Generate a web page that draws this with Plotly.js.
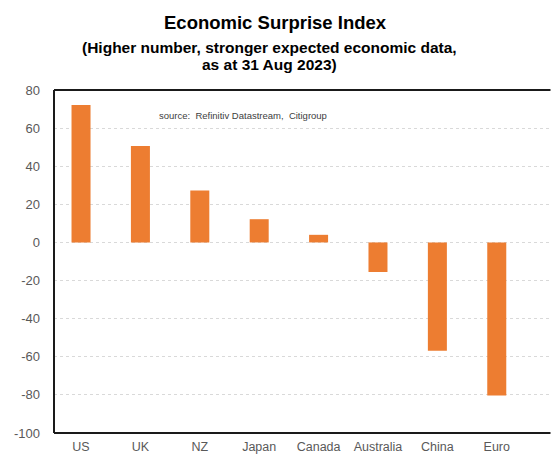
<!DOCTYPE html>
<html>
<head>
<meta charset="utf-8">
<script src="https://cdn.plot.ly/plotly-3.0.1.min.js"></script>
<style>html,body{margin:0;padding:0;background:#fff;}#chart{width:552px;height:457px;}</style>
</head>
<body>
<div id="chart"></div>
<script>
const categories = ["US", "UK", "NZ", "Japan", "Canada", "Australia", "China", "Euro"];
const values = [72.1, 50.6, 27.2, 12.2, 4.0, -15.5, -56.9, -80.3];
const yTicks = [80, 60, 40, 20, 0, -20, -40, -60, -80, -100];

const font = "Liberation Sans, Arial, sans-serif";

const trace = {
  type: "bar",
  x: categories.map((c, i) => i),
  y: values,
  marker: { color: "#ED7D31", line: { width: 0 } },
  width: 0.32,
  hoverinfo: "x+y"
};

const layout = {
  width: 552,
  height: 457,
  margin: { l: 54, r: 0, t: 90, b: 24, pad: 0 },
  paper_bgcolor: "#ffffff",
  plot_bgcolor: "#ffffff",
  showlegend: false,
  xaxis: {
    range: [-0.455, 7.93],
    tickmode: "array",
    tickvals: categories.map((c, i) => i),
    ticktext: categories,
    showgrid: false,
    zeroline: false,
    showline: false,
    ticks: "",
    ticklabelstandoff: 4,
    tickfont: { family: font, size: 12.5, color: "#595959" },
    fixedrange: true
  },
  yaxis: {
    range: [-100, 80],
    tickmode: "array",
    tickvals: yTicks,
    ticktext: yTicks.map(String),
    showgrid: true,
    gridcolor: "#d9d9d9",
    gridwidth: 1,
    griddash: "dot",
    zeroline: false,
    showline: false,
    ticks: "",
    ticklabelstandoff: 13,
    tickfont: { family: font, size: 13, color: "#595959" },
    fixedrange: true
  },
  shapes: [
    { type: "line", xref: "paper", yref: "paper", x0: 0, x1: 0, y0: 0, y1: 1, layer: "above", line: { color: "#1a1a1a", width: 2 } },
    { type: "line", xref: "paper", yref: "paper", x0: 0, x1: 0.997, y0: 0, y1: 0, layer: "above", line: { color: "#1a1a1a", width: 2 } },
    { type: "line", xref: "paper", yref: "paper", x0: 0, x1: 0.997, y0: 1, y1: 1, layer: "above", line: { color: "#1a1a1a", width: 2 } }
  ],
  annotations: [
    {
      text: "<b>Economic Surprise Index</b>",
      xref: "paper", yref: "paper",
      x: 0.444, y: 1.196, xanchor: "center", yanchor: "middle",
      showarrow: false,
      font: { family: font, size: 18.5, color: "#000000" }
    },
    {
      text: "<b>(Higher number, stronger expected economic data,</b>",
      xref: "paper", yref: "paper",
      x: 0.432, y: 1.123, xanchor: "center", yanchor: "middle",
      showarrow: false,
      font: { family: font, size: 15.5, color: "#000000" }
    },
    {
      text: "<b>as at 31 Aug 2023)</b>",
      xref: "paper", yref: "paper",
      x: 0.432, y: 1.074, xanchor: "center", yanchor: "middle",
      showarrow: false,
      font: { family: font, size: 15.5, color: "#000000" }
    },
    {
      text: "source:  Refinitiv Datastream,  Citigroup",
      xref: "paper", yref: "paper",
      x: 0.207, y: 0.927, xanchor: "left", yanchor: "middle",
      showarrow: false,
      font: { family: font, size: 9.5, color: "#404040" }
    }
  ]
};

Plotly.newPlot("chart", [trace], layout, { staticPlot: true, displayModeBar: false });
</script>
</body>
</html>
